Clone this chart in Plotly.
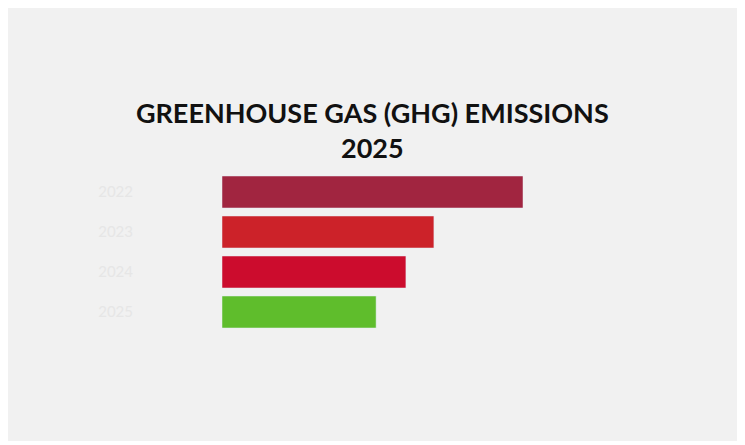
import plotly.graph_objects as go

categories = ["2022", "2023", "2024", "2025"]
values = [100, 70.4, 61.1, 51.2]
colors = ["#a12540", "#cc2229", "#cc0c2d", "#5fbd2c"]

fig = go.Figure(go.Bar(
    y=categories,
    x=values,
    orientation="h",
    marker_color=colors,
    width=0.8,
))

fig.update_layout(
    width=745,
    height=433,
    margin=dict(l=214, r=230, t=164, b=109),
    paper_bgcolor="#f1f1f1",
    plot_bgcolor="#f1f1f1",
    showlegend=False,
    title=dict(
        text="<b>GREENHOUSE GAS (GHG) EMISSIONS<br>2025</b>",
        x=0.489, xanchor="center", y=0.734, yanchor="middle",
        font=dict(family="Lato", size=27, color="#111111", weight=900),
    ),
    xaxis=dict(range=[0, 100], showgrid=False, zeroline=False,
               showticklabels=False),
    yaxis=dict(autorange="reversed", showgrid=False, zeroline=False,
               ticklabelstandoff=88,
               tickfont=dict(family="Lato", size=15, color="#e6e6e6")),
)

fig.write_html("out.html")
